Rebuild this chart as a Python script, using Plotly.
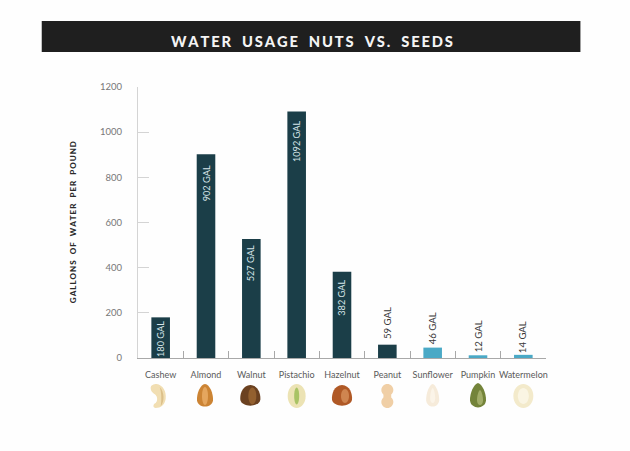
import plotly.graph_objects as go

nuts = ["Cashew", "Almond", "Walnut", "Pistachio", "Hazelnut", "Peanut", "Sunflower", "Pumpkin", "Watermelon"]
gallons = [180, 902, 527, 1092, 382, 59, 46, 12, 14]
y_ticks = [0, 200, 400, 600, 800, 1000, 1200]

DARK = "#1b3e48"
BLUE = "#4aa9c6"
GREY = "#5a5a5a"
bar_colors = [DARK] * 6 + [BLUE] * 3
# the labels do not sit at one distance from the bar top in the original
label_gaps = [2, 9, 4, 7, 6, 4, 1, 1, 0]

# figure size and plot box, in pixels
W, H = 630, 451
L, R, T, B = 137.5, 546.5, 87, 358


def px(x):
    return (x - L) / (R - L)


def py(y):
    return (B - y) / (B - T)


def spaced(text, gap="\u2009"):
    return gap.join(text).replace(f"{gap} {gap}", f"{gap}\u2002{gap}")


def seed(w, h, dx=0, dy=0, blunt=0.5):
    # teardrop, pointed end up, pixels around the icon centre
    a, b = w / 2, h / 2
    return (f"M {dx},{dy + b} C {dx + a * blunt},{dy + b * 0.95} {dx + a * 1.05},{dy + b * 0.2} {dx + a},{dy - b * 0.35} "
            f"C {dx + a * 0.9},{dy - b * 1.05} {dx - a * 0.9},{dy - b * 1.05} {dx - a},{dy - b * 0.35} "
            f"C {dx - a * 1.05},{dy + b * 0.2} {dx - a * blunt},{dy + b * 0.95} {dx},{dy + b} Z")


def oval(w, h, dx=0, dy=0):
    a, b = w / 2, h / 2
    k = 0.55
    return (f"M {dx - a},{dy} C {dx - a},{dy + b * k} {dx - a * k},{dy + b} {dx},{dy + b} "
            f"C {dx + a * k},{dy + b} {dx + a},{dy + b * k} {dx + a},{dy} "
            f"C {dx + a},{dy - b * k} {dx + a * k},{dy - b} {dx},{dy - b} "
            f"C {dx - a * k},{dy - b} {dx - a},{dy - b * k} {dx - a},{dy} Z")


cashew = "M -2,12 C 4,11 8,5 7,-3 C 6,-9 2,-12 -3,-12 C -6,-12 -6,-8 -3,-7 C -1,-5 -1,-1 -3,1 C -5,3 -8,4 -8,8 C -8,11 -5,12 -2,12 Z"

# layers of each little icon under the names
icons = [
    [(cashew, "#f1deb2"), ("M 2,-10 C 6,-6 6,4 1,9 C 3,4 3,-5 2,-10 Z", "#dcc08a")],
    [(seed(16, 24, blunt=0.6), "#cc8434"), (oval(6, 18), "#e5a65e")],
    [(seed(20, 22, blunt=0.8), "#6b4120"), (oval(8, 17, 2, 0), "#93602f")],
    [(oval(18, 24), "#ece3b4"), (oval(5, 17), "#a9c365")],
    [(seed(20, 22, blunt=0.8), "#b05926"), (oval(8, 14, 3, 0), "#cf8550")],
    [(oval(12, 12, 0, 6), "#f0cfa6"), (oval(12, 12, 0, -6), "#f0cfa6"), (oval(8, 8), "#f0cfa6")],
    [(seed(13, 24), "#f6ebda"), (seed(5, 16), "#fbf4e8")],
    [(seed(16, 26), "#74843a"), (seed(6, 16, 2, -2), "#a2ad68")],
    [(oval(20, 24), "#f3eacb"), (oval(11, 16), "#faf5e3")],
]
icon_x_shift = [-2, -1, -1, 0, 0, 0, 0, 0, 0]

fig = go.Figure(
    go.Bar(x=nuts, y=gallons, marker={"color": bar_colors, "line": {"width": 0}}, width=0.41, hoverinfo="x+y")
)

shapes = [
    {
        "type": "rect", "xref": "paper", "yref": "paper", "layer": "below",
        "x0": px(41), "x1": px(581), "y0": py(21), "y1": py(52),
        "fillcolor": "#1f1f1f", "line": {"width": 0},
    }
]
for i, layers in enumerate(icons):
    for path, color in layers:
        shapes.append({
            "type": "path", "path": path, "xref": "x", "yref": "paper",
            "xsizemode": "pixel", "ysizemode": "pixel",
            "xanchor": i + icon_x_shift[i] / 45.4, "yanchor": py(396),
            "fillcolor": color, "line": {"width": 0},
        })

annotations = [
    {
        "text": spaced("WATER USAGE NUTS VS. SEEDS"), "xref": "paper", "yref": "paper",
        "x": px(311.5), "y": py(41), "xanchor": "center", "yanchor": "middle", "showarrow": False,
        "font": {"family": "Lato", "size": 14.7, "color": "#f4f4f4", "weight": 900},
    },
    {
        "text": spaced("GALLONS OF WATER PER POUND"), "xref": "paper", "yref": "paper",
        "x": px(72.5), "y": py(222), "xanchor": "center", "yanchor": "middle", "showarrow": False, "textangle": -90,
        "font": {"family": "Lato", "size": 8, "color": "#2b2b2b", "weight": 900},
    },
]
for name, value, gap in zip(nuts, gallons, label_gaps):
    inside = value > 100
    annotations.append({
        "text": f"{value} GAL", "x": name, "y": value, "showarrow": False, "textangle": -90,
        "yanchor": "top" if inside else "bottom", "yshift": -gap if inside else gap,
        "font": {"family": "Lato", "size": 9.2 if inside else 9.6, "color": "#d8e6ea" if inside else "#3a3a3a"},
    })

fig.update_layout(
    width=W,
    height=H,
    margin={"l": L, "r": W - R, "t": T, "b": H - B, "autoexpand": False},
    paper_bgcolor="#fefefe",
    plot_bgcolor="#fefefe",
    showlegend=False,
    shapes=shapes,
    annotations=annotations,
    xaxis={
        "type": "category",
        "categoryorder": "array",
        "categoryarray": nuts,
        "tickson": "boundaries",
        "ticks": "inside",
        "ticklen": 7,
        "tickangle": 0,
        "tickcolor": "#a8a8a8",
        "tickwidth": 1,
        "showline": True,
        "linecolor": "#a8a8a8",
        "linewidth": 1,
        "showgrid": False,
        "ticklabelstandoff": 8,
        "tickfont": {"family": "Lato", "size": 9, "color": GREY},
    },
    yaxis={
        "range": [0, 1200],
        "tickvals": y_ticks,
        "ticks": "inside",
        "ticklen": 11,
        "tickcolor": "#d4d4d4",
        "tickwidth": 1,
        "showline": True,
        "linecolor": "#d4d4d4",
        "linewidth": 1,
        "showgrid": False,
        "zeroline": False,
        "ticklabelstandoff": 13,
        "tickfont": {"family": "Lato", "size": 9.5, "color": "#777777"},
    },
)

fig.write_html("out.html", config={"displayModeBar": False}, post_script="document.body.style.margin = '0';")
